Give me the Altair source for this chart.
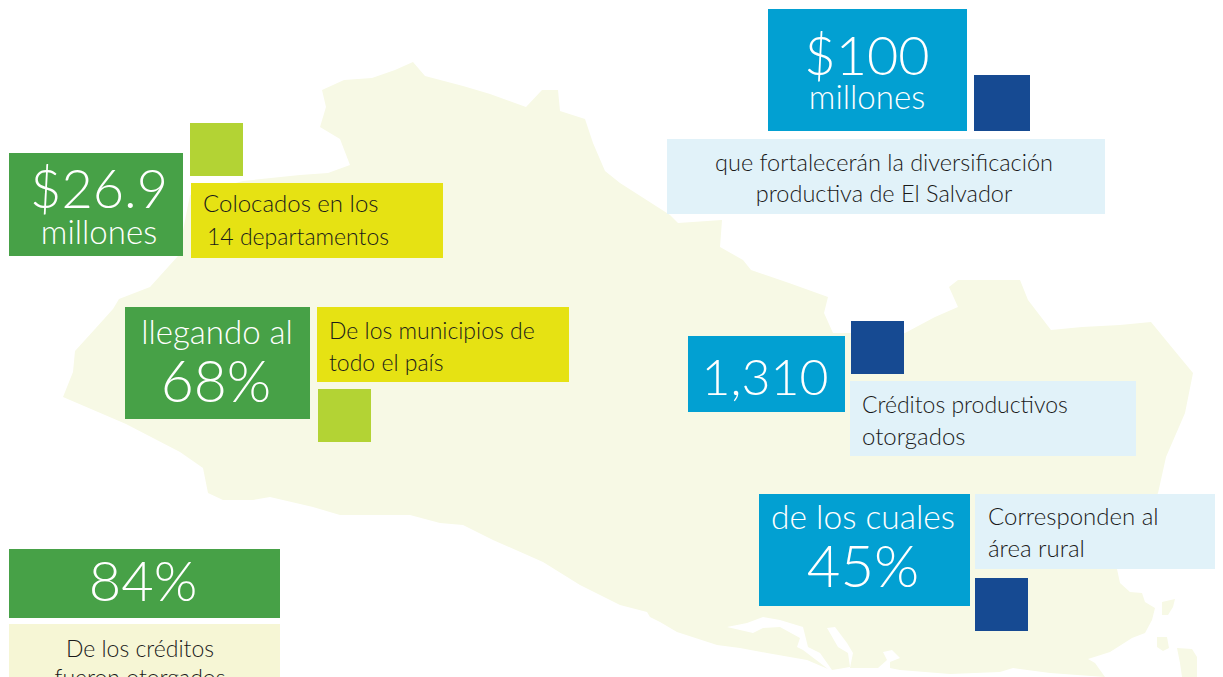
import altair as alt
import pandas as pd

W, H = 1207, 669
FONT = "Lato"

# Silhouette of the country (picture coordinates)
map_outline = [
 (63,397),(73,372),(75,351),(95,329),(113,309),(119,299),(150,287),(178,256),(190,195),(243,181),
 (300,175),(328,173),(350,165),(340,139),(320,127),(326,107),(322,90),(344,80),(372,78),(395,70),
 (413,62),(425,76),(463,86),(490,94),(526,107),(542,90),(558,90),(560,111),(585,119),(593,143),
 (605,171),(620,183),(670,215),(678,223),(722,220),(720,247),(743,260),(751,270),(789,283),(828,297),
 (824,313),(833,333),(905,333),(935,317),(958,307),(949,287),(958,280),(1020,280),(1028,300),(1051,330),
 (1082,327),(1120,325),(1151,322),(1174,350),(1193,373),(1185,413),(1166,457),(1158,493),(1117,569),(1120,583),
 (1130,592),(1142,593),(1145,602),(1155,608),(1152,620),(1145,633),(1132,638),(1110,652),(1088,659),(1095,663),
 (1105,677),(1050,673),(1013,668),(1000,672),(950,674),(900,670),
 (890,668),(890,662),(900,658),(892,650),(883,652),(887,660),(878,668),
 (850,668),(853,653),(847,643),(835,627),(827,628),(838,647),(848,653),(850,667),(832,670),
 (820,653),(808,647),(803,627),(780,620),(763,617),(747,623),(727,627),(740,630),(753,633),(763,628),(780,627),(800,638),(797,647),(803,650),(828,669),
 (807,660),(767,653),(740,648),(717,645),(677,632),(660,622),(650,617),(647,612),(620,605),
 (580,585),(543,562),(493,540),(463,525),(440,523),(410,515),(340,515),(313,507),(270,497),(253,500),
 (223,500),(208,493),(203,468),(180,452),(126,424),(63,397),
]
island_a = [(1162,602),(1175,599),(1173,607),(1168,615),(1162,615),(1162,602)]
island_b = [(1157,637),(1167,637),(1169,648),(1163,651),(1157,647),(1157,637)]
island_c = [(1177,648),(1192,649),(1197,657),(1197,677),(1182,677),(1180,663),(1177,648)]

# Boxes
box_x  = [768,974,667, 9,190,191, 125,317,318, 9,9, 688,851,850, 759,975,975]
box_x2 = [967,1030,1105, 183,243,443, 310,569,371, 280,280, 845,904,1136, 970,1223,1028]
box_y  = [9,75,139, 153,123,183, 307,307,389, 549,624, 336,321,381, 494,494,578]
box_y2 = [131,131,214, 256,176,258, 419,382,442, 618,690, 412,374,456, 606,569,631]
box_col = ["#02a0d2","#164a92","#e1f2f9","#47a147","#b3d334","#e6e213","#47a147","#e6e213","#b3d334",
           "#47a147","#f6f6d5","#02a0d2","#164a92","#e1f2f9","#02a0d2","#e1f2f9","#164a92"]

# Centred texts
c_text = ["$100","millones","que fortalecerán la diversificación","productiva de El Salvador","$26.9","millones",
          "llegando al","68%","84%","De los créditos","fueron otorgados","1,310","de los cuales","45%"]
c_x    = [867,867,884,884,99,99,217,216,143,140,140,765,863,863]
c_y    = [75,109,171,202,208,244,344,402,601,657,686,395,529,587]
c_size = [54,33,23.5,23.5,54,33,33,57,56,23,23,50,33.5,58]
c_col  = ["#ffffff","#ffffff","#1a1a1a","#1a1a1a","#ffffff","#ffffff","#ffffff","#ffffff","#ffffff","#1a1a1a","#1a1a1a","#ffffff","#ffffff","#ffffff"]

# Left aligned texts
l_text = ["Colocados en los","14 departamentos","De los municipios de","todo el país",
          "Créditos productivos","otorgados","Corresponden al","área rural"]
l_x    = [203,207,329,329,862,862,988,988]
l_y    = [212,245,339,371,413,445,525,557]
l_size = [24,23,23,23,23,24,24,24]

xs = alt.Scale(domain=[8, 8+W], range=[0, W], nice=False, zero=False)
ys = alt.Scale(domain=[8, 8+H], range=[0, H], nice=False, zero=False)
X = lambda f: alt.X(f, type="quantitative", scale=xs, axis=None)
Y = lambda f: alt.Y(f, type="quantitative", scale=ys, axis=None)

geo = {"type": "Feature", "properties": {}, "geometry": {"type": "MultiPolygon", "coordinates": [
    [[list(p) for p in r]] for r in (map_outline, island_a, island_b, island_c)]}}
land = alt.Chart(alt.Data(values=[geo])).mark_geoshape(fill="#f7f9e5", stroke=None).project(
    type="identity", scale=1, translate=[-8, -8])

boxes = alt.Chart(pd.DataFrame(dict(x=box_x, x2=box_x2, y=box_y, y2=box_y2, c=box_col))).mark_rect(clip=True).encode(
    x=X("x"), x2="x2", y=Y("y"), y2="y2", color=alt.Color("c:N", scale=None, legend=None))

def texts(t, x, y, s, c, align):
    df = pd.DataFrame(dict(t=t, x=x, y=y, s=s, c=c))
    return alt.Chart(df).mark_text(align=align, baseline="alphabetic", font=FONT, fontWeight=300).encode(
        x=X("x"), y=Y("y"), text="t:N",
        size=alt.Size("s:Q", scale=None, legend=None),
        color=alt.Color("c:N", scale=None, legend=None))

chart = alt.layer(
    land, boxes,
    texts(c_text, c_x, c_y, c_size, c_col, "center"),
    texts(l_text, l_x, l_y, l_size, ["#1a1a1a"]*8, "left"),
).resolve_scale(color="independent").properties(
    width=W, height=H, padding=0, autosize=alt.AutoSizeParams(type="none"), background="#ffffff"
).configure_view(stroke=None)

chart.save("out.html", embed_options={"renderer": "svg", "actions": False})
